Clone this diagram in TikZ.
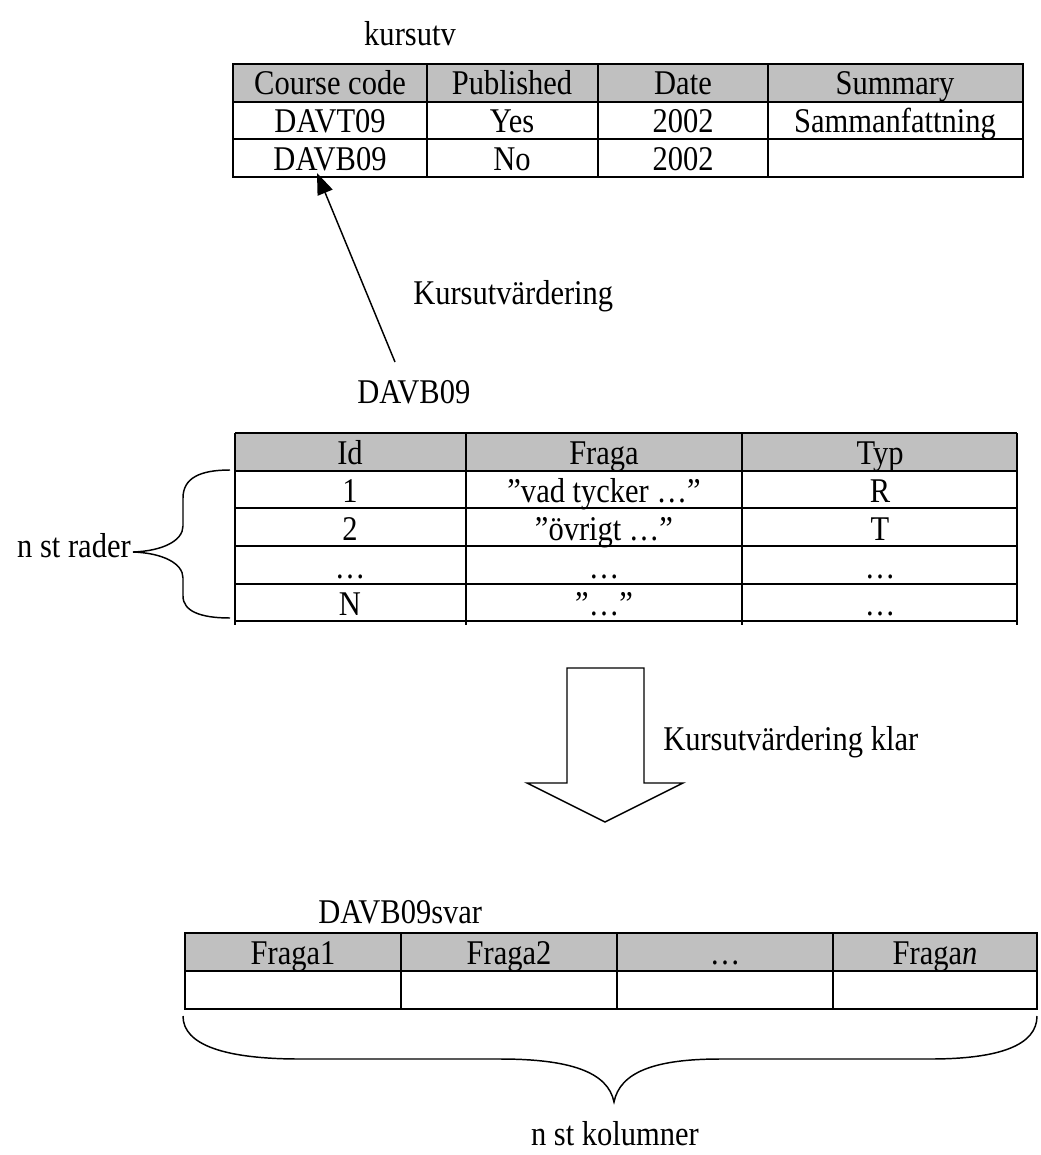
\documentclass[tikz,border=0pt]{standalone}
\usepackage{fontspec}
\setmainfont{Liberation Serif}[FakeStretch=0.88]
\usetikzlibrary{arrows.meta}
\definecolor{headgray}{HTML}{C0C0C0}
\begin{document}
\begin{tikzpicture}[x=0.75pt,y=-0.75pt,
  txt/.style={inner sep=0pt, anchor=base, font=\fontsize{26}{30}\selectfont},
  rule/.style={line width=1.6pt},
  thin/.style={line width=1.1pt}]
\useasboundingbox (0,0) rectangle (1040,1155);

% ---------- table kursutv ----------
\node[txt] (t1name) at (410,46) {kursutv};
\fill[headgray] (233,64) rectangle (1023,102);
\draw[rule] (233,64) rectangle (1023,177);
\draw[rule] (233,102) -- (1023,102) (233,139) -- (1023,139);
\draw[rule] (427,64) -- (427,177) (598,64) -- (598,177) (768,64) -- (768,177);
\node[txt] (h11) at (330,95) {Course code};
\node[txt] (h12) at (512,95) {Published};
\node[txt] (h13) at (683,95) {Date};
\node[txt] (h14) at (895,95) {Summary};
\node[txt] (a11) at (330,133) {DAVT09};
\node[txt] (a12) at (512,133) {Yes};
\node[txt] (a13) at (683,133) {2002};
\node[txt] (a14) at (895,133) {Sammanfattning};
\node[txt] (b11) at (330,171) {DAVB09};
\node[txt] (b12) at (512,171) {No};
\node[txt] (b13) at (683,171) {2002};

% ---------- link from the question table ----------
\coordinate (linkfrom) at (395,362);
\coordinate (linkto) at (317,173);
\draw[thin, -{Triangle[length=16pt,width=12pt]}] (linkfrom) -- (linkto);
\node[txt, anchor=base west] (linklbl) at (413,305) {Kursutvärdering};

% ---------- table DAVB09 ----------
\node[txt, anchor=base west] (t2name) at (357,403) {DAVB09};
\fill[headgray] (235,433) rectangle (1017,471);
\draw[rule] (235,433) -- (1017,433);
\foreach \yy in {471,508,546,584,621} \draw[rule] (235,\yy) -- (1017,\yy);
\foreach \xx in {235,466,742,1017} \draw[rule] (\xx,433) -- (\xx,625);
\node[txt] (h21) at (350,464) {Id};
\node[txt] (h22) at (604,464) {Fraga};
\node[txt] (h23) at (880,464) {Typ};
\node[txt] (r11) at (350,502) {1};
\node[txt] (r12) at (604,502) {”vad tycker …”};
\node[txt] (r13) at (880,502) {R};
\node[txt] (r21) at (350,540) {2};
\node[txt] (r22) at (604,540) {”övrigt …”};
\node[txt] (r23) at (880,540) {T};
\node[txt] (r31) at (350,578) {…};
\node[txt] (r32) at (604,578) {…};
\node[txt] (r33) at (880,578) {…};
\node[txt] (r41) at (350,615) {N};
\node[txt] (r42) at (604,615) {”…”};
\node[txt] (r43) at (880,615) {…};

% brace over the rows
\draw[thin] (230,470) .. controls (200,470) and (183,478) .. (183,498)
  -- (183,526) .. controls (183,541) and (162,551) .. (133,552)
  .. controls (162,553) and (183,563) .. (183,578)
  -- (183,596) .. controls (183,611) and (200,618) .. (230,618);
\node[txt, anchor=base east] (rowslbl) at (131,557) {n st rader};

% ---------- block arrow ----------
\draw[thin] (567,668) -- (644,668) -- (644,783) -- (683,783) -- (605,822)
  -- (527,783) -- (567,783) -- cycle;
\node[txt, anchor=base west] (donelbl) at (663,750) {Kursutvärdering klar};

% ---------- table DAVB09svar ----------
\node[txt, anchor=base west] (t3name) at (318,923) {DAVB09svar};
\fill[headgray] (185,933) rectangle (1037,971);
\draw[rule] (185,933) rectangle (1037,1009);
\draw[rule] (185,971) -- (1037,971);
\draw[rule] (401,933) -- (401,1009) (617,933) -- (617,1009) (833,933) -- (833,1009);
\node[txt] (h31) at (293,964) {Fraga1};
\node[txt] (h32) at (509,964) {Fraga2};
\node[txt] (h33) at (725,964) {…};
\node[txt] (h34) at (935,964) {Fraga\textit{n}};

% brace under the columns
\draw[thin] (183,1016) .. controls (183,1045) and (225,1059) .. (300,1059)
  -- (500,1059) .. controls (570,1059) and (608,1072) .. (614,1102)
  .. controls (620,1072) and (655,1059) .. (720,1059)
  -- (930,1059) .. controls (1000,1059) and (1037,1045) .. (1037,1016);
\node[txt] (colslbl) at (615,1145) {n st kolumner};
\end{tikzpicture}
\end{document}
